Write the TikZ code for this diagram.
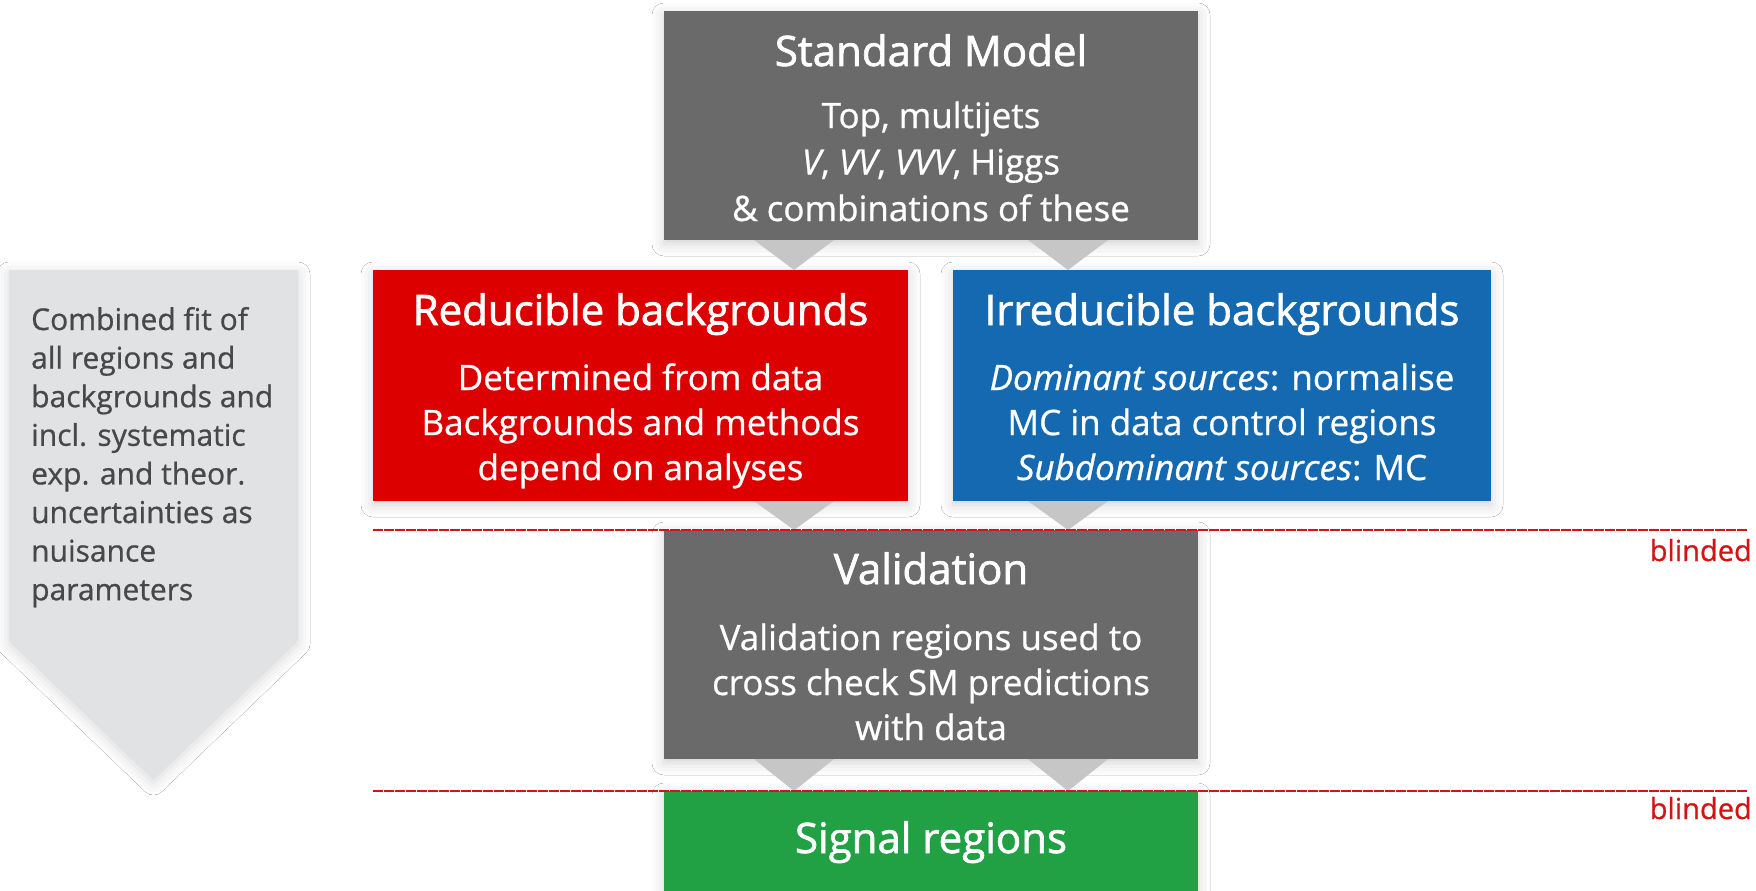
\documentclass[tikz,border=0pt]{standalone}
\usepackage{fontspec}
\setmainfont{Open Sans}
\newfontfamily\ttlfont[FakeBold=1.6]{Open Sans}
\newfontfamily\bodyfont[FakeBold=0.7]{Open Sans}
\usetikzlibrary{calc,shadows.blur}
\definecolor{smgray}{HTML}{6A6A6A}
\definecolor{redbox}{HTML}{DC0000}
\definecolor{bluebox}{HTML}{1569B1}
\definecolor{greenbox}{HTML}{21A044}
\definecolor{panel}{HTML}{E1E2E4}
\definecolor{panneltext}{HTML}{484848}
\definecolor{trigray}{HTML}{C6C6C6}
\definecolor{blindred}{HTML}{D41414}
\begin{document}
\begin{tikzpicture}[x=1pt,y=-1pt,
  box/.style={rectangle,inner sep=0pt,outer sep=0pt,draw=none,
    blur shadow={shadow xshift=0pt,shadow yshift=-4pt,shadow blur radius=12pt,shadow opacity=18}},
  ttl/.style={anchor=base,text=white,font=\ttlfont\fontsize{42}{50}\selectfont,inner sep=0pt},
  ln/.style={anchor=base,text=white,font=\bodyfont\fontsize{35}{45}\selectfont,inner sep=0pt},
  pl/.style={anchor=base west,text=panneltext,font=\bodyfont\fontsize{30}{38}\selectfont,inner sep=0pt},
  tri/.style={fill=trigray},
  blind/.style={draw=blindred,line width=1.3pt,dash pattern=on 10pt off 1pt},
  bl/.style={anchor=base east,text=blindred,font=\bodyfont\fontsize{29}{35}\selectfont,inner sep=0pt}]
\useasboundingbox (0,0) rectangle (1756,891);
\clip (0,0) rectangle (1756,891);
\fill[white] (0,0) rectangle (1756,891);

% left panel
\path[fill=panel,blur shadow={shadow xshift=0pt,shadow yshift=-4pt,shadow blur radius=12pt,shadow opacity=16}]
  (9,270) -- (298,270) -- (298,640) -- (153.5,779) -- (9,640) -- cycle;
\node[pl] (p1) at (31,330) {Combined fit of};
\node[pl] (p2) at (31,368.6) {all regions and};
\node[pl] (p3) at (31,407.2) {backgrounds and};
\node[pl] (p4) at (31,445.8) {incl. systematic};
\node[pl] (p5) at (31,484.4) {exp. and theor.};
\node[pl] (p6) at (31,523) {uncertainties as};
\node[pl] (p7) at (31,561.6) {nuisance};
\node[pl] (p8) at (31,600.2) {parameters};

% boxes
\node[box,fill=smgray,minimum width=534pt,minimum height=229pt] (sm) at (931,125.5) {};
\node[box,fill=redbox,minimum width=535pt,minimum height=231pt] (red) at (640.5,385.5) {};
\node[box,fill=bluebox,minimum width=538pt,minimum height=231pt] (blue) at (1222,385.5) {};
\node[box,fill=smgray,minimum width=534pt,minimum height=229pt] (val) at (931,644.5) {};
\node[box,fill=greenbox,minimum width=534pt,minimum height=140pt] (sig) at (931,861) {};

% chevron connectors
\coordinate (cL) at (794,0);
\coordinate (cR) at (1068,0);
\fill[tri] (sm.south -| cL) ++(-40,0) -- ++(80,0) -- (red.north -| cL) -- cycle;
\fill[tri] (sm.south -| cR) ++(-40,0) -- ++(80,0) -- (blue.north -| cR) -- cycle;
\fill[tri] (red.south -| cL) ++(-40,0) -- ++(80,0) -- (val.north -| cL) -- cycle;
\fill[tri] (blue.south -| cR) ++(-40,0) -- ++(80,0) -- (val.north -| cR) -- cycle;
\fill[tri] (val.south -| cL) ++(-40,0) -- ++(80,0) -- (sig.north -| cL) -- cycle;
\fill[tri] (val.south -| cR) ++(-40,0) -- ++(80,0) -- (sig.north -| cR) -- cycle;

% blinded lines
\coordinate (b1) at (1748,0);
\draw[blind] (red.south west |- val.north) -- (b1 |- val.north);
\draw[blind] (red.south west |- sig.north) -- (b1 |- sig.north);
\node[bl] (bt1) at (1752,561) {blinded};
\node[bl] (bt2) at (1752,819) {blinded};

% texts
\node[ttl] (smt) at (931,66) {Standard Model};
\node[ln] (sm1) at (931,128) {Top, multijets};
\node[ln] (sm2) at (931,174.5) {\emph{V}, \emph{VV}, \emph{VVV}, Higgs};
\node[ln] (sm3) at (931,221) {\& combinations of these};

\node[ttl] (redt) at (640.5,325) {Reducible backgrounds};
\node[ln] (red1) at (640.5,390) {Determined from data};
\node[ln] (red2) at (640.5,435) {Backgrounds and methods};
\node[ln] (red3) at (640.5,480) {depend on analyses};

\node[ttl] (bluet) at (1222,325) {Irreducible backgrounds};
\node[ln] (blue1) at (1222,390) {\emph{Dominant sources}: normalise};
\node[ln] (blue2) at (1222,435) {MC in data control regions};
\node[ln] (blue3) at (1222,480) {\emph{Subdominant sources}: MC};

\node[ttl] (valt) at (931,584) {Validation};
\node[ln] (val1) at (931,650) {Validation regions used to};
\node[ln] (val2) at (931,695) {cross check SM predictions};
\node[ln] (val3) at (931,740) {with data};

\node[ttl] (sigt) at (931,853) {Signal regions};
\end{tikzpicture}
\end{document}
